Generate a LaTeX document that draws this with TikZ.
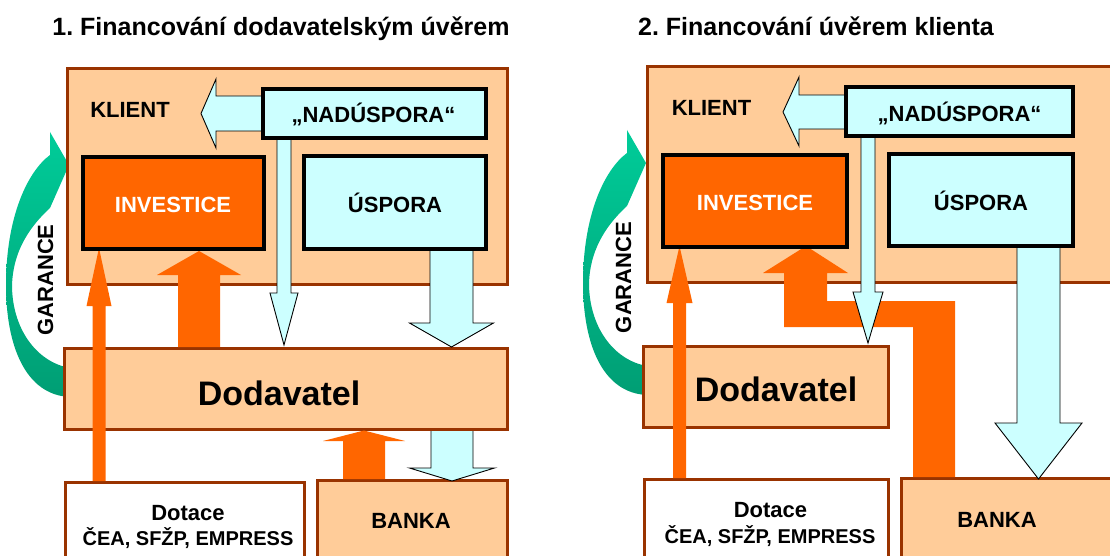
\documentclass[tikz,border=0pt]{standalone}
\usepackage{fontspec}
\setmainfont{Liberation Sans}
\frenchspacing
\definecolor{peachc}{HTML}{FFCC99}
\definecolor{brownc}{HTML}{993300}
\definecolor{orangec}{HTML}{FF6600}
\definecolor{cyanc}{HTML}{CCFFFF}
\definecolor{greenA}{HTML}{00CC99}
\definecolor{greenB}{HTML}{009E74}
\newcommand{\vblockarrow}[7]{%
  \path[#1] ({#2-#3},#5) -- ({#2-#3},#6) -- ({#2-#4},#6) -- (#2,#7) -- ({#2+#4},#6) -- ({#2+#3},#6) -- ({#2+#3},#5);}
\newcommand{\garancearrow}{%
  \path[top color=greenA, bottom color=greenB] (70,397) .. controls (25,395) and (6,345) .. (6,285)
    .. controls (6,218) and (27,172) .. (50,155) -- (50,132) -- (69,165) -- (50,208)
    .. controls (26,230) and (13,255) .. (12,285) .. controls (12,328) and (36,362) .. (70,368) -- cycle;}
\begin{document}
\begin{tikzpicture}[x=1pt,y=-1pt,
  bx/.style={rectangle, anchor=north west, inner sep=0pt, outer sep=0pt},
  peachbox/.style={bx, fill=peachc, draw=brownc, line width=3pt},
  whitebox/.style={bx, fill=white, draw=brownc, line width=3pt},
  cyanbox/.style={bx, fill=cyanc, draw=black, line width=3.4pt},
  orangebox/.style={bx, fill=orangec, draw=black, line width=3.4pt},
  lbl/.style={anchor=base, inner sep=0pt, font=\bfseries\fontsize{22}{26}\selectfont},
  bigl/.style={anchor=base, inner sep=0pt, font=\bfseries\fontsize{34}{40}\selectfont},
  smalll/.style={anchor=base, inner sep=0pt, font=\bfseries\fontsize{20}{24}\selectfont},
  titl/.style={anchor=base, inner sep=0pt, font=\bfseries\fontsize{25}{30}\selectfont},
  cyanarrow/.style={fill=cyanc, draw=black, line width=0.9pt, line join=miter},
  orangearrow/.style={fill=orangec}]
\useasboundingbox (0,0) rectangle (1110,556);
\clip (0,0) rectangle (1110,556);

% titles
\node[titl] (title1) at (281,36) {1. Financování dodavatelským úvěrem};
\node[titl] (title2) at (816,36) {2. Financování úvěrem klienta};

% guarantee arrows
\garancearrow
\begin{scope}[shift={(577,-2)}]
\garancearrow
\end{scope}

% ===== left panel boxes =====
\node[peachbox, minimum width=440pt, minimum height=215pt] (klientL) at (67,69) {};
\node[peachbox, minimum width=443pt, minimum height=81pt] (dodL) at (64,348) {};
\node[whitebox, minimum width=239pt, minimum height=100pt] (dotL) at (65,482) {};
\node[peachbox, minimum width=190pt, minimum height=100pt] (bankL) at (317,480) {};

% ===== right panel boxes =====
\node[peachbox, minimum width=473pt, minimum height=215pt] (klientR) at (647,67) {};
\node[peachbox, minimum width=245pt, minimum height=81pt] (dodR) at (643,346) {};
\node[whitebox, minimum width=244pt, minimum height=101pt] (dotR) at (644,479) {};
\node[peachbox, minimum width=219pt, minimum height=102pt] (bankR) at (901,478) {};

% ===== left panel arrows =====
\path[cyanarrow] (265,96) -- (216,96) -- (216,79) -- (201,113.5) -- (216,148) -- (216,131) -- (265,131);
\vblockarrow{orangearrow}{99}{6.5}{12.5}{481}{306}{248}
\vblockarrow{orangearrow}{199}{21}{42}{347}{275}{251}
\vblockarrow{orangearrow}{364}{21}{41}{479}{441}{430.5}
\vblockarrow{cyanarrow}{284}{7}{14}{136}{293}{345}
\vblockarrow{cyanarrow}{451.5}{21.5}{42}{248}{323}{347}
\vblockarrow{cyanarrow}{452}{21}{42.5}{431}{468}{481}

% ===== right panel arrows =====
\path[cyanarrow] (848,95) -- (799,95) -- (799,77) -- (783,112) -- (799,146) -- (799,129) -- (848,129);
\vblockarrow{orangearrow}{679.5}{6.5}{13}{478}{303}{246}
\path[orangearrow] (806,246) -- (848,273) -- (827,273) -- (827,301) -- (955,301) -- (955,477)
  -- (913,477) -- (913,327) -- (784,327) -- (784,273) -- (763,273) -- cycle;
\vblockarrow{cyanarrow}{868}{7}{15}{134}{292}{343}
\vblockarrow{cyanarrow}{1038.5}{21.5}{43.5}{245}{423}{479}

% ===== inner boxes =====
\node[cyanbox, minimum width=223pt, minimum height=49pt] (nadL) at (263,89) {};
\node[orangebox, minimum width=181pt, minimum height=92pt] (invL) at (83,157) {};
\node[cyanbox, minimum width=182pt, minimum height=93pt] (uspL) at (304,156) {};
\node[cyanbox, minimum width=227pt, minimum height=49pt] (nadR) at (846,87) {};
\node[orangebox, minimum width=184pt, minimum height=92pt] (invR) at (663,155) {};
\node[cyanbox, minimum width=184pt, minimum height=92pt] (uspR) at (889,154) {};

% ===== texts left =====
\node[lbl] (tKlL) at (130,118) {KLIENT};
\node[lbl] (tNadL) at (373.5,123) {„NADÚSPORA“};
\node[lbl, text=white] (tInvL) at (173,212) {INVESTICE};
\node[lbl] (tUspL) at (395,212) {ÚSPORA};
\node[bigl] (tDodL) at (279,405.5) {Dodavatel};
\node[lbl] (tDotL) at (188,520) {Dotace};
\node[smalll] (tCeaL) at (188,545) {ČEA, SFŽP, EMPRESS};
\node[lbl] (tBankL) at (411,528) {BANKA};
\node[lbl, rotate=90] (tGarL) at (53,280) {GARANCE};

% ===== texts right =====
\node[lbl] (tKlR) at (711.5,116) {KLIENT};
\node[lbl] (tNadR) at (959.5,121.5) {„NADÚSPORA“};
\node[lbl, text=white] (tInvR) at (755,210) {INVESTICE};
\node[lbl] (tUspR) at (981,210) {ÚSPORA};
\node[bigl] (tDodR) at (776,401.5) {Dodavatel};
\node[lbl] (tDotR) at (770.5,517) {Dotace};
\node[smalll] (tCeaR) at (770,543) {ČEA, SFŽP, EMPRESS};
\node[lbl] (tBankR) at (997,527) {BANKA};
\node[lbl, rotate=90] (tGarR) at (631,277.5) {GARANCE};
\end{tikzpicture}
\end{document}
